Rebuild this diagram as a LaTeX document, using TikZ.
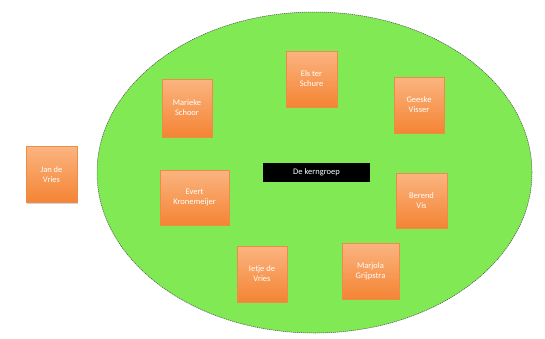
\documentclass[tikz,border=0pt]{standalone}
\usepackage{fontspec}
\setmainfont{Carlito}
\usetikzlibrary{shadows,shapes.geometric}
\definecolor{grn}{RGB}{128,233,84}
\definecolor{otop}{RGB}{251,180,128}
\definecolor{obot}{RGB}{244,132,52}
\definecolor{oedge}{RGB}{236,140,70}
\tikzset{
  person/.style={draw=oedge, line width=0.5pt, top color=otop, bottom color=obot,
    minimum width=51pt, minimum height=56pt, align=center, text=white,
    font=\fontsize{8.5}{10}\selectfont, inner sep=2pt,
    drop shadow={shadow xshift=0.8pt, shadow yshift=-1pt, opacity=0.35}},
  titlebox/.style={fill=black, text=white, minimum width=107pt, minimum height=19pt,
    font=\fontsize{8.5}{10}\selectfont, inner sep=1pt}
}
\begin{document}
\begin{tikzpicture}[x=1pt,y=-1pt]
\useasboundingbox (0,0) rectangle (545,338);
\fill[white] (0,0) rectangle (545,338);
\node[ellipse, draw=black!70, dash pattern=on 1.2pt off 0.8pt, line width=0.5pt, fill=grn,
  minimum width=435pt, minimum height=321pt, inner sep=0pt] (group) at (314.5,172.5) {};
\node[titlebox] (kern) at (316.5,172.5) {De kerngroep};
\node[person] (jan) at (51.5,174.5) {Jan de\\Vries};
\node[person, minimum width=50pt, minimum height=58pt] (marieke) at (187,108) {Marieke\\Schoor};
\node[person] (els) at (311.5,79) {Els ter\\Schure};
\node[person, minimum width=50pt] (geeske) at (419,105) {Geeske\\Visser};
\node[person, minimum width=69pt, minimum height=55pt] (evert) at (194.5,197.5) {Evert\\Kronemeijer};
\node[person, minimum height=55pt] (berend) at (421.5,200.5) {Berend\\Vis};
\node[person, minimum width=50pt] (ietje) at (262,274) {Ietje de\\Vries};
\node[person, minimum width=57pt] (marjola) at (370.5,271) {Marjola\\Grijpstra};
\end{tikzpicture}
\end{document}
